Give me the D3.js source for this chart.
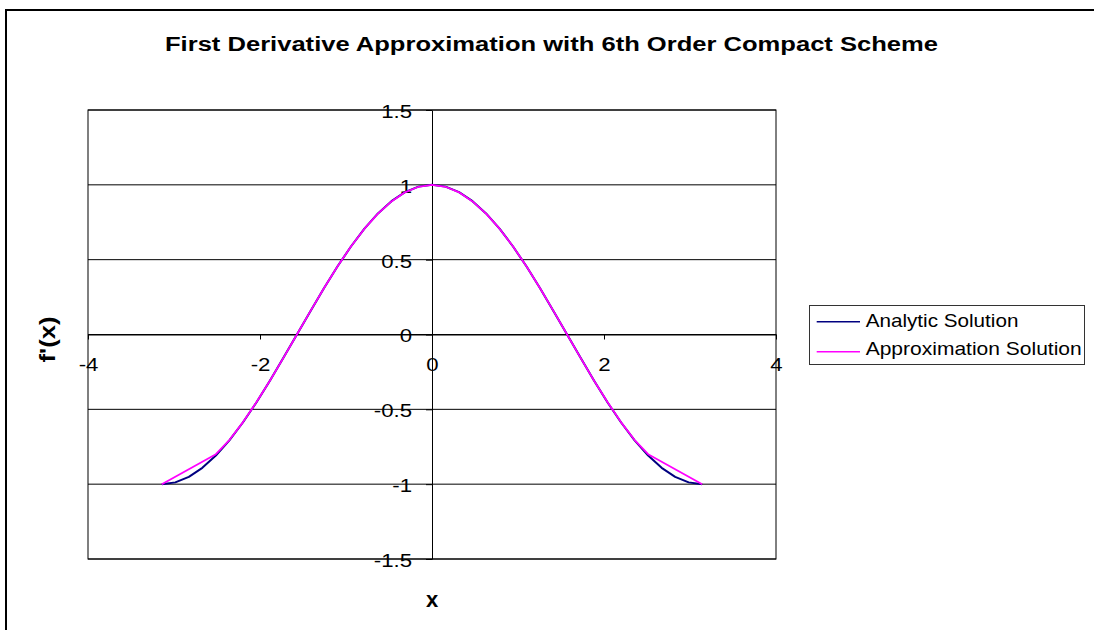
<!DOCTYPE html>
<html>
<head>
<meta charset="utf-8">
<script src="https://cdn.jsdelivr.net/npm/d3@7"></script>
<style>
  html, body { margin: 0; padding: 0; background: #fff; }
  svg { display: block; }
  text { font-family: "Liberation Sans", Arial, sans-serif; fill: #000; }
</style>
</head>
<body>
<svg id="chart" width="1094" height="630"></svg>
<script>
// Axis ticks
const xTickValues = [-4, -2, 0, 2, 4];
const xTickLabels = ["-4", "-2", "0", "2", "4"];
const yTickValues = [1.5, 1, 0.5, 0, -0.5, -1, -1.5];
const yTickLabels = ["1.5", "1", "0.5", "0", "-0.5", "-1", "-1.5"];

// Series
const seriesNames = ["Analytic Solution", "Approximation Solution"];
const analyticX = [-3.1416, -2.9845, -2.8274, -2.6704, -2.5133, -2.3562, -2.1991, -2.0420, -1.8850, -1.7279,
  -1.5708, -1.4137, -1.2566, -1.0996, -0.9425, -0.7854, -0.6283, -0.4712, -0.3142, -0.1571, 0,
  0.1571, 0.3142, 0.4712, 0.6283, 0.7854, 0.9425, 1.0996, 1.2566, 1.4137, 1.5708,
  1.7279, 1.8850, 2.0420, 2.1991, 2.3562, 2.5133, 2.6704, 2.8274, 2.9845, 3.1416];
const analyticY = [-1, -0.988, -0.951, -0.891, -0.809, -0.707, -0.588, -0.454, -0.309, -0.156,
  0, 0.156, 0.309, 0.454, 0.588, 0.707, 0.809, 0.891, 0.951, 0.988, 1,
  0.988, 0.951, 0.891, 0.809, 0.707, 0.588, 0.454, 0.309, 0.156, 0,
  -0.156, -0.309, -0.454, -0.588, -0.707, -0.809, -0.891, -0.951, -0.988, -1];
const approxX = [-3.1416, -2.5133, -2.3562, -2.1991, -2.0420, -1.8850, -1.7279,
  -1.5708, -1.4137, -1.2566, -1.0996, -0.9425, -0.7854, -0.6283, -0.4712, -0.3142, -0.1571, 0,
  0.1571, 0.3142, 0.4712, 0.6283, 0.7854, 0.9425, 1.0996, 1.2566, 1.4137, 1.5708,
  1.7279, 1.8850, 2.0420, 2.1991, 2.3562, 2.5133, 3.1416];
const approxY = [-1, -0.800, -0.705, -0.587, -0.453, -0.309, -0.156,
  0, 0.156, 0.309, 0.454, 0.588, 0.707, 0.808, 0.889, 0.950, 0.987, 1,
  0.987, 0.950, 0.889, 0.808, 0.707, 0.588, 0.454, 0.309, 0.156, 0,
  -0.156, -0.309, -0.453, -0.587, -0.705, -0.800, -1];

const colors = ["#000080", "#FF00FF"];

const svg = d3.select("#chart");

// Widen text along its own direction (the chart's type is set wide)
function stretch(sel, k) {
  sel.each(function () {
    const w = this.getComputedTextLength();
    this.setAttribute("textLength", w * k);
    this.setAttribute("lengthAdjust", "spacingAndGlyphs");
  });
}

// Outer chart frame
svg.append("rect")
  .attr("x", 6).attr("y", 10)
  .attr("width", 1200).attr("height", 700)
  .attr("fill", "#fff").attr("stroke", "#000").attr("stroke-width", 2);

// Plot area
const plot = { left: 88, right: 776, top: 110, bottom: 559 };
const x = d3.scaleLinear().domain([-4, 4]).range([plot.left, plot.right]);
const y = d3.scaleLinear().domain([-1.5, 1.5]).range([plot.bottom, plot.top]);

// Horizontal gridlines
svg.append("g").selectAll("line")
  .data(yTickValues)
  .join("line")
  .attr("x1", plot.left).attr("x2", plot.right)
  .attr("y1", d => y(d)).attr("y2", d => y(d))
  .attr("stroke", "#000").attr("stroke-width", 1);

// Plot border
svg.append("rect")
  .attr("x", plot.left).attr("y", plot.top)
  .attr("width", plot.right - plot.left).attr("height", plot.bottom - plot.top)
  .attr("fill", "none").attr("stroke", "#000").attr("stroke-width", 1);

// X axis through y = 0
const xAxis = svg.append("g")
  .attr("transform", `translate(0,${y(0)})`)
  .call(d3.axisBottom(x)
    .tickValues(xTickValues)
    .tickFormat((d, i) => xTickLabels[i])
    .tickSize(5).tickSizeOuter(0).tickPadding(18));
xAxis.select(".domain").attr("stroke", "#000");
xAxis.selectAll(".tick line").attr("stroke", "#000");
xAxis.selectAll(".tick text")
  .attr("font-size", 18.5)
  .attr("font-family", "Liberation Sans, Arial, sans-serif")
  .attr("fill", "#000")
  .call(stretch, 1.2);

// Y axis through x = 0
const yAxis = svg.append("g")
  .attr("transform", `translate(${x(0)},0)`)
  .call(d3.axisLeft(y)
    .tickValues(yTickValues)
    .tickFormat((d, i) => yTickLabels[i])
    .tickSize(6).tickSizeOuter(0).tickPadding(14));
yAxis.select(".domain").attr("stroke", "#000");
yAxis.selectAll(".tick line").attr("stroke", "#000");
yAxis.selectAll(".tick text")
  .attr("font-size", 18.5)
  .attr("font-family", "Liberation Sans, Arial, sans-serif")
  .attr("fill", "#000")
  .attr("dy", "0.4em")
  .call(stretch, 1.2);

// Series lines
const line = d3.line().x(d => x(d[0])).y(d => y(d[1]));
const analytic = analyticX.map((v, i) => [v, analyticY[i]]);
const approx = approxX.map((v, i) => [v, approxY[i]]);

svg.append("path")
  .datum(analytic)
  .attr("d", line)
  .attr("fill", "none")
  .attr("stroke", colors[0])
  .attr("stroke-width", 2)
  .attr("stroke-linejoin", "round");

svg.append("path")
  .datum(approx)
  .attr("d", line)
  .attr("fill", "none")
  .attr("stroke", colors[1])
  .attr("stroke-width", 1.8)
  .attr("stroke-linejoin", "round");

// Title
svg.append("text")
  .attr("x", 165).attr("y", 51)
  .attr("font-size", 20).attr("font-weight", "bold")
  .attr("textLength", 773).attr("lengthAdjust", "spacingAndGlyphs")
  .text("First Derivative Approximation with 6th Order Compact Scheme");

// Axis titles
svg.append("text")
  .attr("x", 432).attr("y", 607)
  .attr("text-anchor", "middle")
  .attr("font-size", 22).attr("font-weight", "bold")
  .text("x");

svg.append("text")
  .attr("transform", `translate(55,${y(0) + 5}) rotate(-90)`)
  .attr("text-anchor", "middle")
  .attr("font-size", 22).attr("font-weight", "bold")
  .attr("textLength", 46).attr("lengthAdjust", "spacingAndGlyphs")
  .text("f'(x)");

// Legend
const legend = svg.append("g");
legend.append("rect")
  .attr("x", 809.5).attr("y", 305.5)
  .attr("width", 275).attr("height", 59)
  .attr("fill", "#fff").attr("stroke", "#333").attr("stroke-width", 1);

const legendRows = [
  { name: seriesNames[0], color: colors[0], ly: 321.7, ty: 326.7, len: 152.7 },
  { name: seriesNames[1], color: colors[1], ly: 351.7, ty: 355, len: 216 }
];
legendRows.forEach(r => {
  legend.append("line")
    .attr("x1", 816.7).attr("x2", 860)
    .attr("y1", r.ly).attr("y2", r.ly)
    .attr("stroke", r.color).attr("stroke-width", 1.5);
  legend.append("text")
    .attr("x", 865.7).attr("y", r.ty)
    .attr("font-size", 17.7)
    .attr("textLength", r.len).attr("lengthAdjust", "spacingAndGlyphs")
    .text(r.name);
});
</script>
</body>
</html>
